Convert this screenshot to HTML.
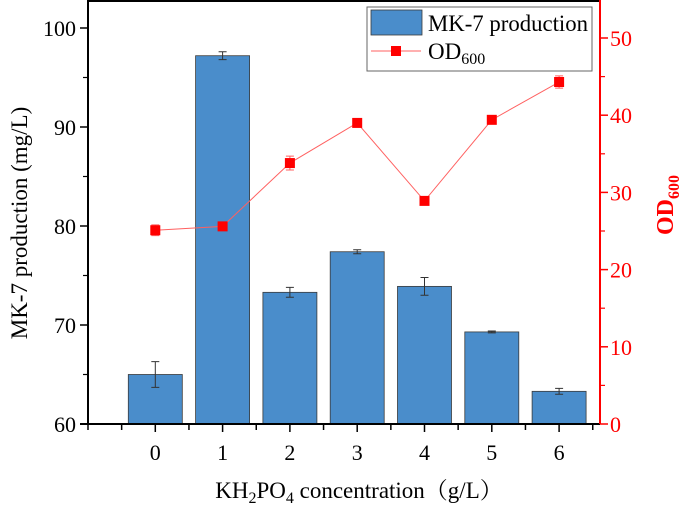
<!DOCTYPE html>
<html><head><meta charset="utf-8"><style>
body{margin:0;background:#fff}
svg{display:block;font-family:"Liberation Serif","Noto Serif CJK SC",serif}
text{font-family:"Liberation Serif","Noto Serif CJK SC",serif}
</style></head><body>
<svg id="c" width="685" height="505"></svg>
<script>
const categories=["0","1","2","3","4","5","6"];
const mk7=[65.0,97.2,73.3,77.4,73.9,69.3,63.3];
const mk7Err=[1.3,0.4,0.5,0.2,0.9,0.1,0.3];
const od=[25.1,25.6,33.8,39.0,28.9,39.4,44.3];
const odErr=[0.7,0.3,0.9,0.3,0.3,0.3,0.8];
const leftTicks=[60,70,80,90,100];
const rightTicks=[0,10,20,30,40,50];

const svg=document.getElementById('c');
const NS='http://www.w3.org/2000/svg';
const L=88,R=600,T=1,B=424;
const x=v=>L+(v+1)*67.3;
const yL=v=>B-(v-60)*9.9;
const yR=v=>B-v*7.72;
function el(tag,attrs,parent){const e=document.createElementNS(NS,tag);for(const k in attrs)e.setAttribute(k,attrs[k]);(parent||svg).appendChild(e);return e;}

categories.forEach((c,i)=>{
  const cx=x(i),w=54;
  const b=el('rect',{x:cx-w/2,y:yL(mk7[i]),width:w,height:B-yL(mk7[i]),fill:'#4a8dcb',stroke:'#3a3a3a','stroke-width':0.8});
  
  
  const e1=yL(mk7[i]+mk7Err[i]),e2=yL(mk7[i]-mk7Err[i]);
  const eb=el('path',{d:`M${cx} ${e1}V${e2}M${cx-4} ${e1}H${cx+4}M${cx-4} ${e2}H${cx+4}`,stroke:'#333','stroke-width':1,fill:'none'});
  
  
});
const lg=el('g',{});


el('rect',{x:367,y:7,width:225,height:64,fill:'#fff',stroke:'#666','stroke-width':1},lg);
el('rect',{x:371,y:10,width:51,height:25,fill:'#4a8dcb',stroke:'#3a3a3a','stroke-width':0.8},lg);
const lt1=el('text',{x:428,y:31,'font-size':23,textLength:160,lengthAdjust:'spacingAndGlyphs'},lg);lt1.textContent='MK-7 production';
el('line',{x1:371,y1:51,x2:421,y2:51,stroke:'#ff6060'},lg);
el('rect',{x:391,y:46,width:10,height:10,fill:'#f00'},lg);
const lt2=el('text',{x:428,y:59,'font-size':23},lg);lt2.innerHTML='OD<tspan font-size="16" dy="5">600</tspan>';

const ln=el('polyline',{points:od.map((v,i)=>x(i)+','+yR(v)).join(' '),fill:'none',stroke:'#ff6060','stroke-width':1});


od.forEach((v,i)=>{
  const cx=x(i);
  const e1=yR(v+odErr[i]),e2=yR(v-odErr[i]);
  const eb=el('path',{d:`M${cx} ${e1}V${e2}M${cx-4} ${e1}H${cx+4}M${cx-4} ${e2}H${cx+4}`,stroke:'#ff6060','stroke-width':1,fill:'none'});
  
  
  const p=el('rect',{x:cx-5,y:yR(v)-5,width:10,height:10,fill:'#ff0000'});
  
  
});
el('line',{x1:L,y1:T,x2:R,y2:T,stroke:'#000','stroke-width':2});
el('line',{x1:L,y1:0,x2:L,y2:B,stroke:'#000','stroke-width':2});
el('line',{x1:L-8,y1:B,x2:R,y2:B,stroke:'#000','stroke-width':2});
el('line',{x1:R,y1:0,x2:R,y2:B,stroke:'#ff0000','stroke-width':2});
leftTicks.forEach(v=>{
  el('line',{x1:L-8,y1:yL(v),x2:L,y2:yL(v),stroke:'#000','stroke-width':1.5});
  const t=el('text',{x:L-12,y:yL(v)+8,'text-anchor':'end','font-size':22});t.textContent=v;
  
  
  if(v<100)el('line',{x1:L-5,y1:yL(v+5),x2:L,y2:yL(v+5),stroke:'#000','stroke-width':1.2});
});
rightTicks.forEach(v=>{
  el('line',{x1:R,y1:yR(v),x2:R+8,y2:yR(v),stroke:'#f00','stroke-width':1.5});
  el('line',{x1:R,y1:yR(v+5),x2:R+5,y2:yR(v+5),stroke:'#f00','stroke-width':1.2});
  const t=el('text',{x:R+10,y:yR(v)+8,'font-size':22,fill:'#f00'});t.textContent=v;
  
  
});
for(let k=-1;k<=6.5;k+=0.5){
  const major=Number.isInteger(k)&&k>=0;
  el('line',{x1:x(k),y1:B,x2:x(k),y2:B+(major?8:6),stroke:'#000','stroke-width':1.5});
}
categories.forEach((c,i)=>{
  const t=el('text',{x:x(i),y:B+36,'text-anchor':'middle','font-size':22});t.textContent=c;
  
  
});
const yt=el('text',{transform:'translate(27,223) rotate(-90)','text-anchor':'middle','font-size':23});
yt.textContent='MK-7 production (mg/L)';


const rt=el('text',{transform:'translate(673,205) rotate(-90)','text-anchor':'middle','font-size':24,'font-weight':'bold',fill:'#f00'});
rt.innerHTML='OD<tspan font-size="16" dy="6">600</tspan>';


const xt=el('text',{x:359,y:498,'text-anchor':'middle','font-size':23});
xt.innerHTML='KH<tspan font-size="16" dy="5">2</tspan><tspan dy="-5">PO</tspan><tspan font-size="16" dy="5">4</tspan><tspan dy="-5"> concentration（g/L）</tspan>';


</script>
</body></html>
